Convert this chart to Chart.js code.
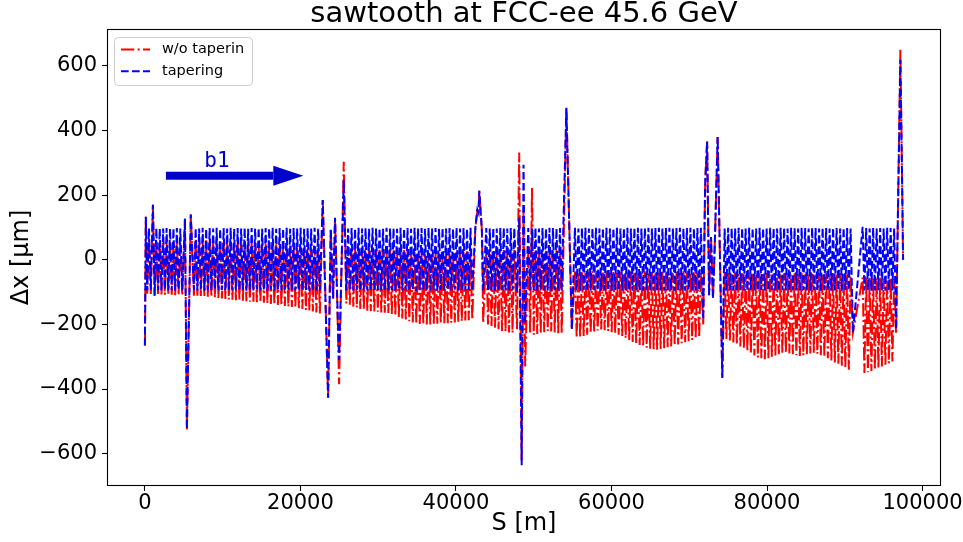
<!DOCTYPE html>
<html>
<head>
<meta charset="utf-8">
<script src="https://cdn.jsdelivr.net/npm/chart.js@4.4.0/dist/chart.umd.min.js"></script>
<style>html,body{margin:0;padding:0;background:#fff}canvas{display:block}</style>
</head>
<body>
<canvas id="c" width="963" height="542"></canvas>
<script>
// S positions [m], shared by both orbits
const sPos = [
  // start + first arc piece
  0,120,300,520,760,1030,1250,1470,1690,1910,2130,2350,2570,2790,3010,3230,3450,3670,3890,4110,4330,4550,4800,5150,5400,5900,
  // arc 2
  6300,6525,6750,6975,7200,7425,7650,7875,
  8100,8325,8550,8775,9000,9225,9450,9675,
  9900,10125,10350,10575,10800,11025,11250,11475,
  11700,11925,12150,12375,12600,12825,13050,13275,
  13500,13725,13950,14175,14400,14625,14850,15075,
  15300,15525,15750,15975,16200,16425,16650,16875,
  17100,17325,17550,17775,18000,18225,18450,18675,
  18900,19125,19350,19575,19800,20025,20250,20475,
  20700,20925,21150,21375,21600,21825,22050,22275,
  22500,
  22870,23560,23900,24200,24450,24700,24970,25570,
  // arc 3
  25900,26125,26350,26575,26800,27025,27250,27475,
  27700,27925,28150,28375,28600,28825,29050,29275,
  29500,29725,29950,30175,30400,30625,30850,31075,
  31300,31525,31750,31975,32200,32425,32650,32875,
  33100,33325,33550,33775,34000,34225,34450,34675,
  34900,35125,35350,35575,35800,36025,36250,36475,
  36700,36925,37150,37375,37600,37825,38050,38275,
  38500,38725,38950,39175,39400,39625,39850,40075,
  40300,40525,40750,40975,41200,41425,41650,41875,
  42100,
  42500,42750,42900,43000,43330,43500,
  43900,44125,44350,44575,44800,45025,45250,45475,45700,45925,46150,46375,46600,46825,47050,47275,47500,
  47850,48130,48450,48690,48900,
  49300,49540,49780,50000,50225,50450,50675,50900,51125,51350,51575,51800,52025,52250,52475,52700,52925,53150,53375,53600,
  54200,54900,
  // arc 6
  55300,55525,55750,55975,56200,56425,56650,56875,
  57100,57325,57550,57775,58000,58225,58450,58675,
  58900,59125,59350,59575,59800,60025,60250,60475,
  60700,60925,61150,61375,61600,61825,62050,62275,
  62500,62725,62950,63175,63400,63625,63850,64075,
  64300,64525,64750,64975,65200,65425,65650,65875,
  66100,66325,66550,66775,67000,67225,67450,67675,
  67900,68125,68350,68575,68800,69025,69250,69475,
  69700,69925,70150,70375,70600,70825,71050,71275,
  71500,
  71800,72050,72300,72550,72800,73050,73300,73650,74250,
  // arc 7
  74550,74775,75000,75225,75450,75675,75900,76125,
  76350,76575,76800,77025,77250,77475,77700,77925,
  78150,78375,78600,78825,79050,79275,79500,79725,
  79950,80175,80400,80625,80850,81075,81300,81525,
  81750,81975,82200,82425,82650,82875,83100,83325,
  83550,83775,84000,84225,84450,84675,84900,85125,
  85350,85575,85800,86025,86250,86475,86700,86925,
  87150,87375,87600,87825,88050,88275,88500,88725,
  88950,89175,89400,89625,89850,90075,90300,90525,
  90750,
  91050,92300,
  92525,92750,92975,93200,93425,93650,93875,94100,94325,94550,94775,95000,95225,95450,95675,95900,96125,96350,
  96600,97150,97350,97500
];
// dx with tapering [um]
const dxTaper = [
  -265,133,-95,97,-94,170,-110,98,-94,96,-95,97,-93,98,-95,96,-94,97,-96,98,-93,97,-95,127,-525,140,
  -94,98,-95,97,-93,99,-96,96,
  -94,98,-95,97,-92,99,-95,96,
  -94,98,-96,97,-93,99,-95,96,
  -94,98,-95,97,-93,99,-96,96,
  -94,98,-95,97,-92,99,-95,96,
  -94,98,-96,97,-93,99,-95,96,
  -94,98,-95,97,-93,99,-96,96,
  -94,98,-95,97,-92,99,-95,96,
  -94,98,-96,97,-93,99,-95,96,
  -94,
  185,-427,95,-120,130,-95,-310,245,
  -95,97,-94,98,-96,96,-93,99,
  -95,97,-94,98,-95,96,-93,99,
  -96,97,-94,98,-95,96,-93,99,
  -95,97,-94,98,-96,96,-93,99,
  -95,97,-94,98,-95,96,-93,99,
  -96,97,-94,98,-95,96,-93,99,
  -95,97,-94,98,-96,96,-93,99,
  -95,97,-94,98,-95,96,-93,99,
  -96,97,-94,98,-95,96,-93,99,
  -95,
  102,155,145,214,93,-95,
  98,-95,97,-94,99,-96,97,-95,98,-94,99,-95,97,-96,98,-94,98,
  -100,130,-636,294,-195,
  98,-95,97,-94,99,-96,97,-95,98,-94,97,-95,99,-96,98,-94,97,-95,98,-96,
  470,-216,
  99,-95,97,-96,98,-94,99,-95,
  97,-96,98,-94,99,-95,97,-96,
  98,-94,99,-95,97,-96,98,-94,
  99,-95,97,-96,98,-94,99,-95,
  97,-96,98,-94,99,-95,97,-96,
  98,-94,99,-95,97,-96,98,-94,
  99,-95,97,-96,98,-94,99,-95,
  97,-96,98,-94,99,-95,97,-96,
  98,-94,99,-95,97,-96,98,-94,
  99,
  -185,240,366,-110,70,-120,60,380,-365,
  97,-96,99,-94,98,-95,97,-96,
  99,-94,98,-95,97,-96,99,-94,
  98,-95,97,-96,99,-94,98,-95,
  97,-96,99,-94,98,-95,97,-96,
  99,-94,98,-95,97,-96,99,-94,
  98,-95,97,-96,99,-94,98,-95,
  97,-96,99,-94,98,-95,97,-96,
  99,-94,98,-95,97,-96,99,-94,
  98,-95,97,-96,99,-94,98,-95,
  97,
  -225,102,
  -95,98,-94,97,-96,99,-95,97,-94,98,-95,97,-96,99,-94,98,-95,97,
  -216,618,287,0
];
// dx without tapering [um]
const dxNoTaper = [
  -265,133,-105,60,-106,170,-112,55,-106,58,-107,52,-108,55,-105,57,-108,54,-110,56,-109,52,-110,127,-525,140,
  -111,62,-111,61,-112,61,-112,60,
  -114,60,-115,60,-117,59,-118,58,
  -120,58,-121,57,-123,57,-124,56,
  -125,56,-126,55,-127,55,-128,54,
  -130,53,-130,52,-131,52,-132,51,
  -133,50,-135,49,-137,49,-138,48,
  -140,47,-141,46,-143,45,-145,44,
  -146,43,-148,42,-150,41,-152,40,
  -155,39,-157,38,-160,37,-163,36,
  -166,
  185,-427,95,-120,130,-100,-385,303,
  -135,40,-139,40,-145,39,-148,38,
  -152,37,-154,36,-158,36,-159,35,
  -160,35,-161,34,-163,34,-164,33,
  -165,33,-168,32,-172,32,-177,31,
  -182,30,-185,28,-190,26,-194,24,
  -198,22,-199,21,-200,20,-200,19,
  -200,18,-200,18,-198,19,-197,20,
  -196,21,-196,22,-195,22,-194,23,
  -192,24,-190,25,-188,26,-187,26,
  -185,
  100,150,145,214,93,-195,
  30,-200,29,-205,28,-210,30,-215,29,-220,30,-222,28,-225,29,-226,30,
  -215,332,-620,150,-330,
  30,-225,222,-232,28,-230,29,-228,30,-224,28,-220,29,-222,28,-225,30,-227,29,-228,
  470,-216,
  -35,-242,-38,-240,-36,-236,-40,-232,
  -38,-228,-35,-222,-40,-219,-37,-216,
  -38,-218,-36,-220,-40,-224,-35,-228,
  -40,-232,-38,-236,-42,-242,-36,-248,
  -38,-254,-40,-260,-37,-264,-40,-268,
  -36,-272,-42,-275,-38,-277,-40,-278,
  -40,-276,-37,-274,-38,-271,-42,-268,
  -42,-265,-38,-262,-40,-258,-36,-255,
  -40,-252,-38,-248,-36,-244,-38,-240,
  -40,
  -200,240,366,-110,70,-120,60,380,-365,
  -40,-245,-42,-250,-45,-256,-40,-262,
  -44,-268,-42,-275,-46,-282,-40,-290,
  -43,-296,-45,-302,-42,-305,-44,-308,
  -40,-305,-46,-300,-42,-296,-44,-292,
  -45,-290,-42,-288,-40,-290,-46,-292,
  -42,-295,-44,-298,-40,-295,-45,-292,
  -43,-290,-42,-288,-46,-291,-40,-295,
  -44,-300,-42,-305,-45,-312,-42,-318,
  -46,-322,-42,-328,-44,-334,-45,-340,
  -50,
  -225,-55,
  -350,-55,-348,-56,-345,-58,-340,-56,-335,-55,-330,-58,-325,-60,-320,-57,-315,-60,
  -230,650,287,0
];
if (sPos.length!==dxTaper.length || sPos.length!==dxNoTaper.length)
  throw new Error('length mismatch '+sPos.length+' '+dxTaper.length+' '+dxNoTaper.length);

const xTicks = [0,20000,40000,60000,80000,100000];
const yTicks = [-600,-400,-200,0,200,400,600];
const legendLabels = ['w/o taperin','tapering'];
// beam direction arrow (data units)
const arrowFrom = [2700,260], arrowTo = [20370,260], arrowText = [9270,287];

function fmt(v){ return v<0 ? '\u2212'+Math.abs(v) : String(v); }

const redDash=[13.3,3.3,2.1,3.3], blueDash=[7.7,3.3];

const decor = {
  id:'decor',
  afterDraw(chart){
    const {ctx, chartArea:a, scales:{x,y}} = chart;
    ctx.save();
    // frame
    ctx.strokeStyle='#000'; ctx.lineWidth=1.1; ctx.setLineDash([]);
    ctx.strokeRect(Math.round(a.left)+0.5, Math.round(a.top)+0.5, Math.round(a.right-a.left)-1, Math.round(a.bottom-a.top)-1);
    // arrow b1
    const x0=x.getPixelForValue(arrowFrom[0]), x1=x.getPixelForValue(arrowTo[0]), ya=y.getPixelForValue(arrowFrom[1]);
    ctx.fillStyle='#0000cd';
    ctx.fillRect(x0, ya-4, x1-30-x0, 8);
    ctx.beginPath(); ctx.moveTo(x1-30,ya-10); ctx.lineTo(x1,ya); ctx.lineTo(x1-30,ya+10); ctx.closePath(); ctx.fill();
    ctx.font='21px "DejaVu Sans Mono"'; ctx.textAlign='center'; ctx.textBaseline='alphabetic';
    ctx.fillText('b1', x.getPixelForValue(arrowText[0]), y.getPixelForValue(arrowText[1]));
    // legend
    const lx=a.left+7, ly=a.top+8, lw=138, lh=48;
    ctx.beginPath(); ctx.roundRect(lx+0.5, ly+0.5, lw, lh, 4);
    ctx.fillStyle='rgba(255,255,255,0.8)'; ctx.fill();
    ctx.strokeStyle='#cccccc'; ctx.lineWidth=1; ctx.stroke();
    const items=[{c:'#ff0000',d:redDash,t:legendLabels[0]},{c:'#0000ff',d:blueDash,t:legendLabels[1]}];
    ctx.font='14.5px "DejaVu Sans"'; ctx.textAlign='left'; ctx.textBaseline='middle';
    items.forEach((it,i)=>{
      const yy=ly+12.5+i*21.7;
      ctx.strokeStyle=it.c; ctx.lineWidth=2; ctx.setLineDash(it.d);
      ctx.beginPath(); ctx.moveTo(lx+7,yy); ctx.lineTo(lx+36,yy); ctx.stroke();
      ctx.setLineDash([]); ctx.fillStyle='#000';
      ctx.fillText(it.t, lx+48, yy);
    });
    ctx.restore();
  }
};

Chart.defaults.font.family='"DejaVu Sans", sans-serif';
Chart.defaults.color='#000';

new Chart(document.getElementById('c'), {
  type:'line',
  data:{datasets:[
    // blue first so it is painted on top of the red one
    {label:legendLabels[1], data:sPos.map((s,i)=>({x:s,y:dxTaper[i]})), borderColor:'#0000ff', borderWidth:2, borderDash:blueDash, pointRadius:0, tension:0, fill:false},
    {label:legendLabels[0], data:sPos.map((s,i)=>({x:s,y:dxNoTaper[i]})), borderColor:'#ff0000', borderWidth:2, borderDash:redDash, pointRadius:0, tension:0, fill:false}
  ]},
  options:{
    responsive:false, animation:false, devicePixelRatio:1,
    layout:{padding:{left:0,right:22,top:0,bottom:0}},
    plugins:{
      legend:{display:false}, tooltip:{enabled:false},
      title:{display:true, text:'sawtooth at FCC-ee 45.6 GeV', fullSize:false, font:{size:29, weight:'normal', lineHeight:1}, padding:{top:0,bottom:0}, color:'#000'}
    },
    scales:{
      x:{type:'linear', min:-4875, max:102375,
        afterBuildTicks:s=>{ s.ticks=xTicks.map(v=>({value:v})); },
        ticks:{autoSkip:false, maxRotation:0, padding:2, font:{size:21, lineHeight:1}, callback:v=>fmt(v)},
        grid:{drawOnChartArea:false, tickLength:5, tickColor:'#000', tickWidth:1.1},
        border:{display:false},
        title:{display:true, text:'S [m]', font:{size:24, lineHeight:1.2}, padding:{top:0,bottom:3.6}},
        afterFit:s=>{ s.height=56; s.paddingLeft=0; s.paddingRight=0; }
      },
      y:{type:'linear', min:-700, max:714,
        afterBuildTicks:s=>{ s.ticks=yTicks.map(v=>({value:v})); },
        ticks:{autoSkip:false, padding:5, font:{size:21, lineHeight:1}, callback:v=>fmt(v)},
        grid:{drawOnChartArea:false, tickLength:5, tickColor:'#000', tickWidth:1.1},
        border:{display:false},
        title:{display:true, text:'\u0394x [\u03bcm]', font:{size:24, lineHeight:1.2}, padding:{top:7.6,bottom:0}},
        afterFit:s=>{ s.width=107; s.paddingTop=0; s.paddingBottom=0; }
      }
    }
  },
  plugins:[decor]
});
</script>
</body>
</html>
